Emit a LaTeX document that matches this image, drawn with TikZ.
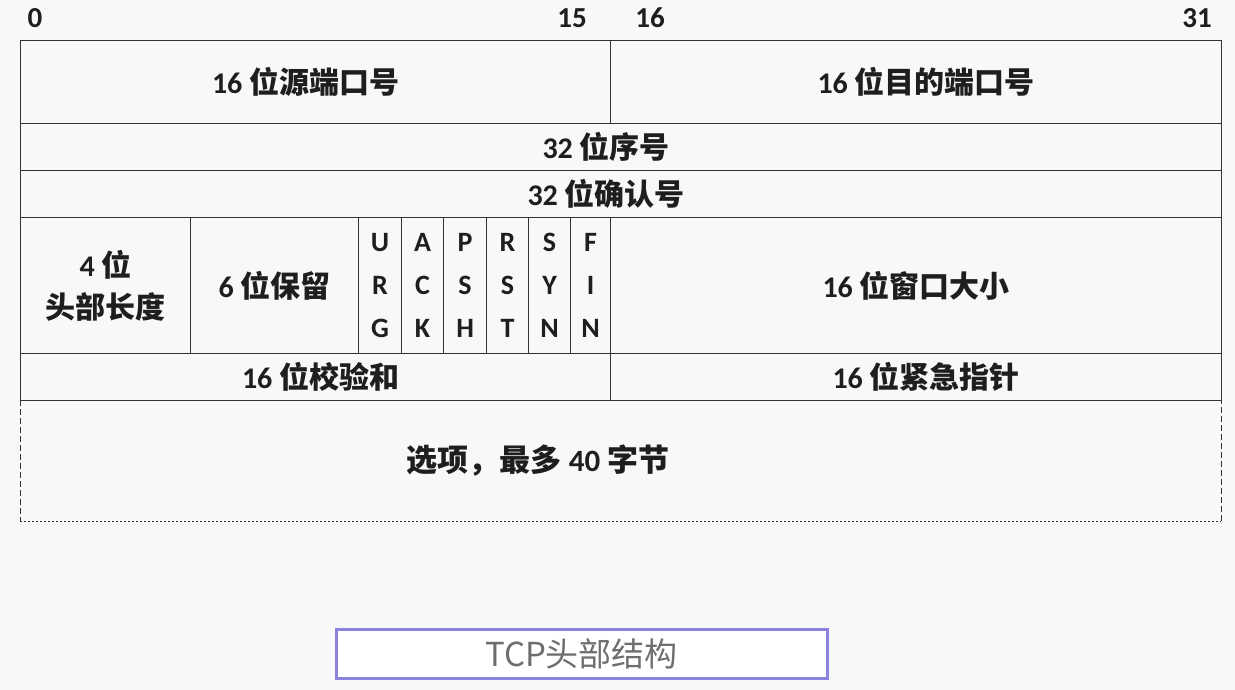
\documentclass[tikz,border=0pt]{standalone}
\usepackage{fontspec}
\setmainfont{Carlito}
\newfontfamily\cjk{Noto Sans CJK SC}
\definecolor{bgc}{HTML}{F8F8F8}
\definecolor{linec}{HTML}{333333}
\definecolor{textc}{HTML}{1E1E1E}
\definecolor{capc}{HTML}{8C82E0}
\definecolor{captext}{HTML}{6E6E6E}
\newcommand{\zh}[1]{{\cjk\bfseries #1}}
\begin{document}
\begin{tikzpicture}[x=1pt,y=-1pt,
  cell/.style={draw=linec, line width=1.2pt, anchor=north west, inner sep=0pt, text=textc,
    font=\fontsize{30}{42}\selectfont\bfseries, align=center},
  lbl/.style={text=textc, font=\fontsize{29}{32}\selectfont\bfseries, inner sep=0pt},
  flag/.style={cell, font=\fontsize{28}{43}\selectfont\bfseries},
  optline/.style={draw=linec, line width=1pt}]
\fill[bgc] (0,0) rectangle (1235,690);
\useasboundingbox (0,0) rectangle (1235,690);
% bit labels
\node[lbl] (b0) at (35,18) {0};
\node[lbl] (b15) at (572,18) {15};
\node[lbl] (b16) at (650,18) {16};
\node[lbl] (b31) at (1197,18) {31};
% rows
\node[cell, minimum width=590pt, minimum height=83pt] (src) at (20,40) {16 \zh{位源端口号}\hspace*{20pt}};
\node[cell, minimum width=611pt, minimum height=83pt] (dst) at (610,40) {\hspace*{20pt}16 \zh{位目的端口号}};
\node[cell, minimum width=1201pt, minimum height=47pt] (seq) at (20,123) {32 \zh{位序号}\hspace*{30pt}};
\node[cell, minimum width=1201pt, minimum height=47pt] (ack) at (20,170) {32 \zh{位确认号}\hspace*{30pt}};
\node[cell, minimum width=170pt, minimum height=136pt] (hlen) at (20,217) {4 \zh{位}\\\zh{头部长度}};
\node[cell, minimum width=168pt, minimum height=136pt] (rsv) at (190,217) {6 \zh{位保留}};
\node[flag, minimum width=43pt, minimum height=136pt] (furg) at (358,217) {U\\R\\G};
\node[flag, minimum width=42pt, minimum height=136pt] (fack) at (401,217) {A\\C\\K};
\node[flag, minimum width=43pt, minimum height=136pt] (fpsh) at (443,217) {P\\S\\H};
\node[flag, minimum width=42pt, minimum height=136pt] (frst) at (486,217) {R\\S\\T};
\node[flag, minimum width=42pt, minimum height=136pt] (fsyn) at (528,217) {S\\Y\\N};
\node[flag, minimum width=40pt, minimum height=136pt] (ffin) at (570,217) {F\\I\\N};
\node[cell, minimum width=611pt, minimum height=136pt] (win) at (610,217) {16 \zh{位窗口大小}};
\node[cell, minimum width=590pt, minimum height=47pt] (chk) at (20,353) {\hspace*{10pt}16 \zh{位校验和}};
\node[cell, minimum width=611pt, minimum height=47pt] (urp) at (610,353) {\hspace*{20pt}16 \zh{位紧急指针}};
% options
\coordinate (o1) at (20,400);
\coordinate (o2) at (20,521);
\coordinate (o3) at (1221,521);
\coordinate (o4) at (1221,400);
\draw[optline, dash pattern=on 6pt off 3pt] (o1) -- (o2);
\draw[optline, dash pattern=on 2pt off 2pt] (o2) -- (o3);
\draw[optline, dash pattern=on 6pt off 3pt] (o3) -- (o4);
\node[lbl, font=\fontsize{31}{32}\selectfont\bfseries] (opt) at (538,461) {\zh{选项，最多} 40 \zh{字节}};
% caption
\node[draw=capc, line width=3pt, fill=white, minimum width=491pt, minimum height=49pt, inner sep=0pt,
  text=captext, font=\cjk\fontsize{33}{33}\selectfont] (cap) at (581.5,653.5) {TCP头部结构};
\end{tikzpicture}
\end{document}
